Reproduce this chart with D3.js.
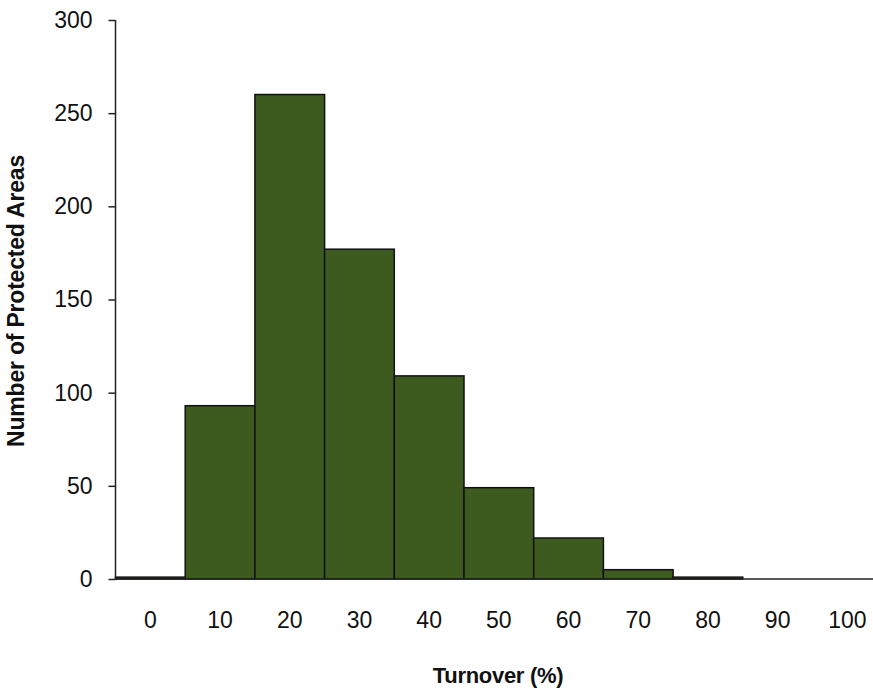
<!DOCTYPE html>
<html>
<head>
<meta charset="utf-8">
<script src="https://cdn.jsdelivr.net/npm/d3@7"></script>
<style>
  html, body { margin: 0; padding: 0; background: #fff; }
  svg text { font-family: "Liberation Sans", Arial, sans-serif; fill: #111; }
</style>
</head>
<body>
<svg id="chart" width="873" height="688"></svg>
<script>
const categories = [0, 10, 20, 30, 40, 50, 60, 70, 80, 90, 100];
const counts = [1, 93, 260, 177, 109, 49, 22, 5, 1, 0, 0];
const yTicks = [0, 50, 100, 150, 200, 250, 300];
const xTitle = "Turnover (%)";
const yTitle = "Number of Protected Areas";

const svg = d3.select("#chart");
const x0 = 115.5, bandW = 69.7;

const x = d3.scaleBand()
  .domain(categories)
  .range([x0, x0 + bandW * categories.length])
  .padding(0);

const y = d3.scaleLinear().domain([0, 300]).range([579, 20]);

// bars
svg.append("g").selectAll("rect")
  .data(categories.map((c, i) => ({c, v: counts[i]})).filter(d => d.v > 0))
  .join("rect")
  .attr("x", d => x(d.c))
  .attr("y", d => y(d.v))
  .attr("width", x.bandwidth())
  .attr("height", d => y(0) - y(d.v))
  .attr("fill", "#3e5b1f")
  .attr("stroke", "#111")
  .attr("stroke-width", 1.5);

// x axis baseline + labels
const xAxis = svg.append("g")
  .attr("transform", `translate(0,${y(0)})`)
  .call(d3.axisBottom(x).tickSize(0).tickPadding(0));
xAxis.select(".domain").remove();
svg.append("line")
  .attr("x1", x0).attr("x2", 873)
  .attr("y1", y(0)).attr("y2", y(0))
  .attr("stroke", "#222").attr("stroke-width", 1.5);
xAxis.selectAll("text")
  .attr("dy", null)
  .attr("y", 49)
  .style("font-size", "23px")
  .style("fill", "#111");

// y axis
const yAxis = svg.append("g")
  .attr("transform", `translate(${x0},0)`)
  .call(d3.axisLeft(y).tickValues(yTicks).tickSize(7).tickPadding(16));
yAxis.select(".domain").attr("stroke", "#222").attr("stroke-width", 1.5).attr("d", `M0,${y(300)}V${y(0)}`);
yAxis.selectAll(".tick line").attr("stroke", "#222").attr("stroke-width", 1.5);
yAxis.selectAll("text")
  .style("font-size", "23px")
  .style("fill", "#111");

// titles
svg.append("text")
  .attr("x", 498).attr("y", 683)
  .attr("text-anchor", "middle")
  .style("font-size", "22px")
  .style("font-weight", "bold")
  .style("letter-spacing", "-0.3px")
  .text(xTitle);

svg.append("text")
  .attr("transform", "translate(24,301) rotate(-90)")
  .attr("text-anchor", "middle")
  .style("font-size", "23px")
  .style("font-weight", "bold")
  .style("letter-spacing", "-0.2px")
  .text(yTitle);
</script>
</body>
</html>
